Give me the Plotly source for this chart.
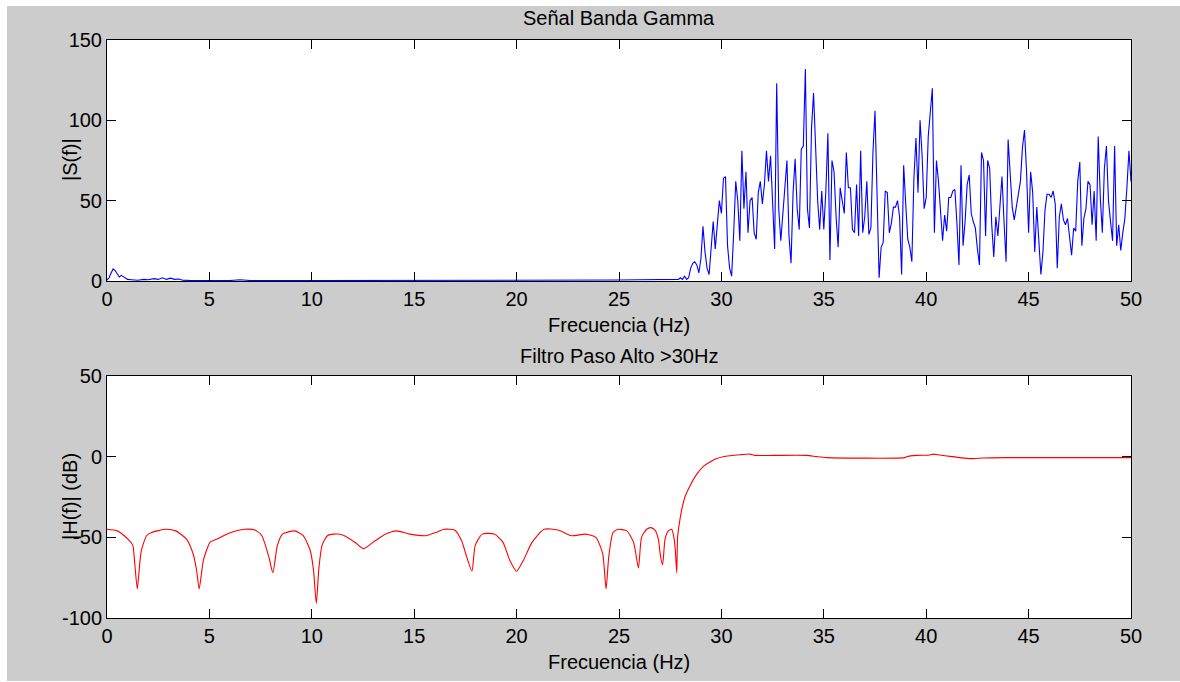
import numpy as np
import plotly.graph_objects as go

W, H = 1180, 682

# ---- Spectrum |S(f)| : low band (sparse points, near zero) ----
low_freq = [0.0, 0.1, 0.2, 0.3, 0.4, 0.5, 0.6, 0.7, 0.8, 0.9, 1.0, 1.2, 1.5, 1.8,
            2.0, 2.3, 2.5, 2.7, 2.9, 3.1, 3.3, 3.5, 3.7, 4.0, 5.0, 6.0, 6.5, 7.0,
            10.0, 15.0, 20.0, 25.0, 26.0, 27.0, 27.5, 27.7]
low_mag = [0.5, 2.0, 5.0, 7.5, 6.5, 4.0, 2.5, 3.5, 2.5, 1.5, 1.0, 0.8, 0.5, 1.0,
           0.8, 1.5, 1.0, 2.0, 1.0, 1.8, 1.0, 1.2, 0.5, 0.4, 0.3, 0.3, 0.8, 0.3,
           0.3, 0.3, 0.3, 0.6, 0.8, 1.0, 1.2, 1.0]

# ---- Spectrum |S(f)| : gamma band, 0.1 Hz bins starting at 27.8 Hz ----
band_start = 27.8
band_step = 0.1
band_mag = [
    1, 1, 2, 1, 3, 1, 2, 8, 11, 12, 10, 5,                      # 27.8 - 28.9
    14, 34, 18, 8, 4, 22, 37, 20, 35, 50,                       # 29.0 - 29.9
    42, 64, 65, 22, 8, 3, 30, 62, 50, 25,                       # 30.0 - 30.9
    81, 45, 68, 30, 50, 52, 30, 26, 55, 62,                     # 31.0 - 31.9
    48, 60, 81, 62, 78, 50, 20, 123, 45, 25,                    # 32.0 - 32.9
    42, 55, 75, 28, 11, 55, 76, 45, 32, 82,                     # 33.0 - 33.9
    84, 132, 45, 33, 95, 117, 78, 50, 32, 56,                   # 34.0 - 34.9
    32, 56, 92, 13, 75, 68, 40, 21, 58, 50,                     # 35.0 - 35.9
    42, 80, 58, 58, 32, 30, 60, 28, 81, 30,                     # 36.0 - 36.9
    40, 62, 29, 33, 80, 106, 48, 2, 21, 24,                     # 37.0 - 37.9
    56, 55, 30, 36, 46, 46, 50, 40, 4, 72,                      # 38.0 - 38.9
    48, 26, 21, 12, 64, 89, 55, 100, 78, 45,                    # 39.0 - 39.9
    52, 90, 105, 120, 30, 75, 62, 41, 25, 41,                   # 40.0 - 40.9
    31, 52, 52, 56, 57, 36, 10, 72, 22, 37,                     # 41.0 - 41.9
    60, 66, 42, 37, 33, 20, 10, 80, 75, 28,                     # 42.0 - 42.9
    75, 70, 35, 15, 40, 28, 50, 65, 37, 12,                     # 43.0 - 43.9
    88, 66, 46, 38, 46, 56, 62, 83, 94, 68,                     # 44.0 - 44.9
    30, 68, 55, 18, 46, 25, 4, 18, 44, 54,                      # 45.0 - 45.9
    54, 52, 56, 48, 8, 40, 48, 38, 35, 39,                      # 46.0 - 46.9
    27, 16, 33, 31, 62, 74, 22, 39, 45, 62,                     # 47.0 - 47.9
    60, 35, 56, 25, 90, 52, 30, 70, 84, 50,                     # 48.0 - 48.9
    37, 25, 84, 22, 35, 19, 30, 39, 58, 81,                     # 49.0 - 49.9
    62,                                                         # 50.0
]
band_freq = [round(band_start + band_step * i, 1) for i in range(len(band_mag))]

spec_freq = low_freq + band_freq
spec_mag = low_mag + band_mag

# ---- High-pass filter response |H(f)| in dB ----
filt_freq = [0.0, 0.5, 1.01, 1.26, 1.34, 1.48, 1.60, 1.68, 1.93, 2.18, 2.86, 3.36,
             3.87, 4.20, 4.37, 4.50, 4.71, 5.04, 5.38, 6.05, 6.72, 7.23, 7.56,
             7.90, 8.10, 8.32, 8.57, 9.16, 9.58, 9.92, 10.08, 10.22, 10.34,
             10.50, 10.76, 11.09, 11.51, 12.10, 12.52, 13.11, 13.61, 14.12,
             14.79, 15.55, 16.05, 16.47, 16.97, 17.31, 17.56, 17.82, 17.98,
             18.32, 18.91, 19.33, 19.66, 20.00, 20.34, 20.76, 21.34, 22.02,
             22.69, 23.36, 23.87, 24.20, 24.37, 24.50, 24.71, 24.96, 25.38,
             25.71, 25.95, 26.10, 26.35, 26.55, 26.76, 26.92, 27.03, 27.13,
             27.25, 27.41, 27.57, 27.68, 27.75, 27.82, 27.86, 27.95, 28.06,
             28.22, 28.47, 28.79, 29.12, 29.44, 29.77, 30.09, 30.42, 30.91,
             31.39, 31.64, 32.53, 34.16, 34.65, 35.14, 38.96, 39.05, 39.53,
             40.18, 40.35, 40.67, 41.16, 41.65, 42.22, 42.79, 43.93, 50.0]
filt_db = [-45, -46, -51, -55, -64, -82, -66, -58, -49, -47, -45, -46,
           -51, -60, -70, -82, -64, -53, -51, -47, -45, -45.5, -49,
           -62, -72, -55, -48, -46, -49, -58, -70, -91, -70,
           -55, -49, -48, -48.5, -53, -57, -52, -48, -46,
           -48, -49, -47, -45, -45.5, -52, -62, -71, -55,
           -48, -48, -53, -64, -71, -64, -53, -45, -45.5,
           -49, -48, -50, -60, -82, -62, -47, -45, -46,
           -53, -69, -50, -45, -44, -45.5, -51, -62, -67,
           -51, -46, -45, -50, -58, -72, -50, -41, -33,
           -25, -18, -11, -6, -3.3, -1.2, 0, 0.6, 1.2,
           1.6, 0.8, 0.8, 0.8, 0, -0.6, -0.6, 0, 0.8,
           1.0, 1.6, 1.0, 0.2, -0.6, -1.2, -0.8, -0.6, -0.6]

# Axis ticks
x_ticks = [0, 5, 10, 15, 20, 25, 30, 35, 40, 45, 50]
spec_ticks = [0, 50, 100, 150]
filt_ticks = [-100, -50, 0, 50]
filt_tick_text = ["-100", "-50", "0", "50"]

FONT = "Arial, Liberation Sans, sans-serif"
FS = 20


def px_x(px):
    return px / W


def px_y(py):
    return 1 - py / H


fig = go.Figure()
fig.add_trace(go.Scatter(x=spec_freq, y=spec_mag, mode="lines",
                         line=dict(color="#0000ff", width=1.1),
                         xaxis="x", yaxis="y", showlegend=False))
fig.add_trace(go.Scatter(x=filt_freq, y=filt_db, mode="lines",
                         line=dict(color="#ff0000", width=1.1, shape="spline", smoothing=0.6),
                         xaxis="x2", yaxis="y2", showlegend=False))

axis_common = dict(showline=True, linecolor="black", linewidth=1, mirror="ticks",
                   ticks="inside", ticklen=9, tickcolor="black", tickwidth=1,
                   showgrid=False, zeroline=False, automargin=False,
                   tickfont=dict(family=FONT, size=FS, color="black"))

xdom = [px_x(107), px_x(1131)]
fig.update_layout(
    width=W, height=H, autosize=False,
    margin=dict(l=0, r=0, t=0, b=0, pad=0, autoexpand=False),
    paper_bgcolor="#cccccc",
    plot_bgcolor="white",
    xaxis=dict(domain=xdom, range=[0, 50], tickvals=x_ticks, anchor="y", **axis_common),
    yaxis=dict(domain=[px_y(281), px_y(40)], range=[0, 150], tickvals=spec_ticks,
               anchor="x", **axis_common),
    xaxis2=dict(domain=xdom, range=[0, 50], tickvals=x_ticks, anchor="y2", **axis_common),
    yaxis2=dict(domain=[px_y(618), px_y(376)], range=[-100, 50], tickvals=filt_ticks,
                ticktext=filt_tick_text, anchor="x2", **axis_common),
    shapes=[
        dict(type="rect", xref="paper", yref="paper", x0=0, x1=px_x(7), y0=0, y1=1,
             fillcolor="white", line=dict(width=0), layer="below"),
        dict(type="rect", xref="paper", yref="paper", x0=0, x1=1, y0=px_y(6), y1=1,
             fillcolor="white", line=dict(width=0), layer="below"),
        dict(type="rect", xref="paper", yref="paper", x0=0, x1=1, y0=0, y1=px_y(681),
             fillcolor="white", line=dict(width=0), layer="below"),
    ],
)

txt = dict(family=FONT, size=FS, color="black")
cx = px_x(619)
labels = [
    ("Señal Banda Gamma", cx, 18, 0),
    ("Frecuencia (Hz)", cx, 325, 0),
    ("Filtro Paso Alto >30Hz", cx, 356, 0),
    ("Frecuencia (Hz)", cx, 662, 0),
    ("|S(f)|", px_x(70), 160, -90),
    ("|H(f)| (dB)", px_x(70), 497, -90),
]
for text, xx, yy, ang in labels:
    fig.add_annotation(text=text, x=xx, y=px_y(yy), xref="paper", yref="paper",
                       showarrow=False, font=txt, textangle=ang,
                       xanchor="center", yanchor="middle")

fig.write_html("out.html", post_script="document.body.style.margin = '0';")
